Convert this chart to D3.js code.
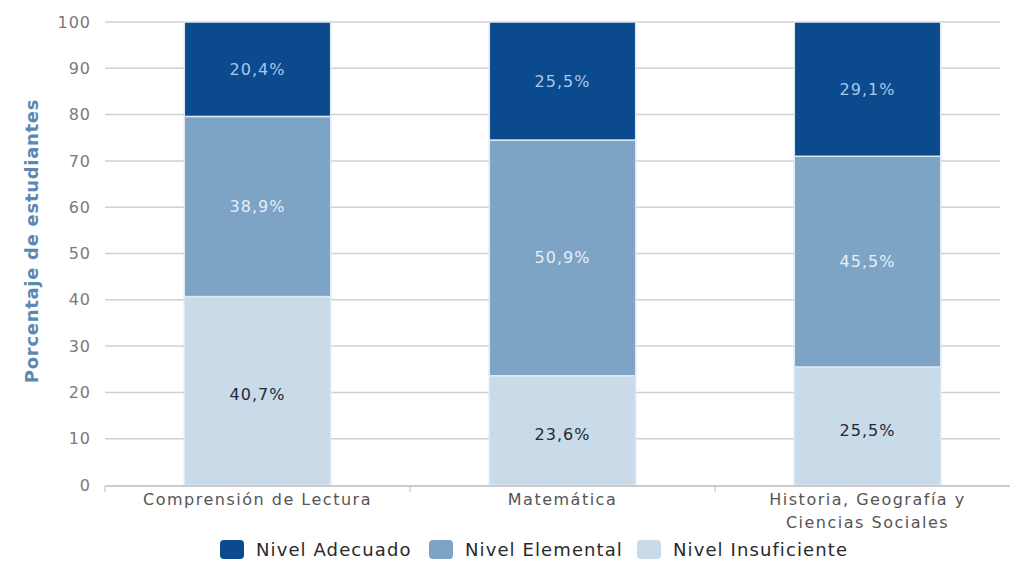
<!DOCTYPE html>
<html><head><meta charset="utf-8">
<script src="https://cdn.jsdelivr.net/npm/d3@7"></script>
<style>body{margin:0;background:#fff}svg{display:block}</style>
</head><body>
<svg id="c" width="1010" height="562"></svg>
<script>
const categories = [["Comprensión de Lectura"], ["Matemática"], ["Historia, Geografía y", "Ciencias Sociales"]];
const seriesNames = ["Nivel Insuficiente", "Nivel Elemental", "Nivel Adecuado"];
const insuficiente = [40.7, 23.6, 25.5];
const elemental = [38.9, 50.9, 45.5];
const adecuado = [20.4, 25.5, 29.1];
const yTicks = [0, 10, 20, 30, 40, 50, 60, 70, 80, 90, 100];
const colors = ["#c9dae9", "#7da3c5", "#0c4a8e"];
const labelColors = ["#1e2a36", "#e6eff8", "#a8c8ea"];
const legendOrder = [2, 1, 0];

const FONT = "DejaVu Sans, sans-serif";
const svg = d3.select("#c");
const x = d3.scaleBand().domain(d3.range(categories.length)).range([105, 1020]).padding(0);
const y = d3.scaleLinear().domain([0, 100]).range([485, 22]);
const barW = x.bandwidth() * 0.48;

// gridlines
svg.append("g").selectAll("line").data(yTicks.filter(d => d > 0)).join("line")
  .attr("x1", 105).attr("x2", 1000)
  .attr("y1", d => y(d)).attr("y2", d => y(d))
  .attr("stroke", "#d0d0d0").attr("stroke-width", 1.5);

// y tick labels
svg.append("g").selectAll("text").data(yTicks).join("text")
  .attr("x", 91).attr("y", d => y(d)).attr("dy", "0.35em")
  .attr("text-anchor", "end").attr("fill", "#7a7a7a")
  .style("font-family", FONT).style("font-size", "16px").style("letter-spacing", "1px")
  .text(d => d);

// y title
svg.append("text").attr("transform", `translate(38,241) rotate(-90)`)
  .attr("text-anchor", "middle").attr("fill", "#5b87b4")
  .style("font-family", FONT).style("font-size", "18px").style("font-weight", "bold").style("letter-spacing", "0.7px")
  .text("Porcentaje de estudiantes");

// stacked bars
const series = [insuficiente, elemental, adecuado];
const rows = categories.map((c, i) => ({i, v: series.map(s => s[i])}));
const gBars = svg.append("g");
rows.forEach(r => {
  let acc = 0;
  r.v.forEach((v, k) => {
    const y0 = acc, y1 = Math.min(100, acc + v);
    acc += v;
    const cx = x(r.i) + x.bandwidth() / 2;
    gBars.append("rect")
      .attr("x", cx - barW / 2).attr("width", barW)
      .attr("y", y(y1)).attr("height", y(y0) - y(y1))
      .attr("fill", colors[k]).attr("stroke", "#dce8f3").attr("stroke-width", 1.5);
    gBars.append("text")
      .attr("x", cx).attr("y", (y(y0) + y(y1)) / 2 + (k === 0 ? 4 : 0)).attr("dy", "0.35em")
      .attr("text-anchor", "middle").attr("fill", labelColors[k])
      .style("font-family", FONT).style("font-size", "16px").style("letter-spacing", "1px")
      .text(d3.format(".1f")(v).replace(".", ",") + "%");
  });
});

// x axis
const gx = svg.append("g");
gx.append("line").attr("x1", 105).attr("x2", 1010).attr("y1", 486).attr("y2", 486)
  .attr("stroke", "#bdbdbd").attr("stroke-width", 1.5);
gx.selectAll("line.t").data(d3.range(categories.length + 1)).join("line").attr("class", "t")
  .attr("x1", d => 105 + d * x.step()).attr("x2", d => 105 + d * x.step())
  .attr("y1", 486).attr("y2", 492).attr("stroke", "#bdbdbd");
categories.forEach((lines, i) => {
  const cx = x(i) + x.bandwidth() / 2;
  const t = gx.append("text").attr("x", cx).attr("y", 505)
    .attr("text-anchor", "middle").attr("fill", "#555")
    .style("font-family", FONT).style("font-size", "16px").style("letter-spacing", "1.5px");
  lines.forEach((l, j) => t.append("tspan").attr("x", cx).attr("dy", j ? 23 : 0).text(l));
});

// legend
const legX = [220, 429, 637];
const leg = svg.append("g");
legendOrder.forEach((k, j) => {
  leg.append("rect").attr("x", legX[j]).attr("y", 540).attr("width", 24).attr("height", 19).attr("rx", 4)
    .attr("fill", colors[k]);
  leg.append("text").attr("x", legX[j] + 36).attr("y", 550).attr("dy", "0.35em")
    .attr("fill", "#2a2a2a")
    .style("font-family", FONT).style("font-size", "18px").style("letter-spacing", "1.1px")
    .text(seriesNames[k]);
});
</script>
</body></html>
